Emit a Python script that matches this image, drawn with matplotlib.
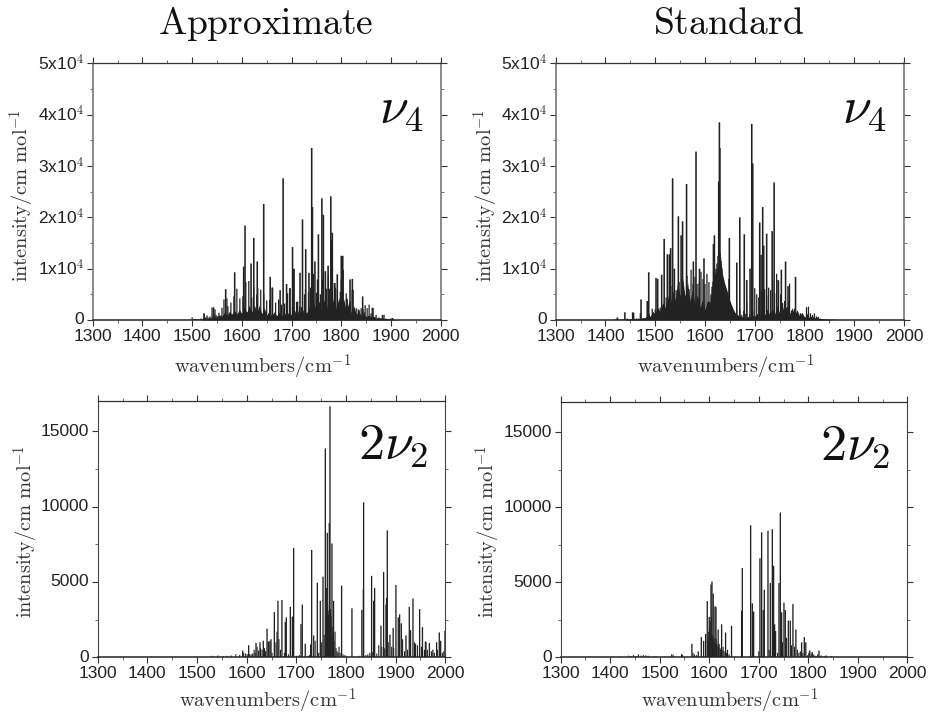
import matplotlib
matplotlib.use("Agg")
import matplotlib.pyplot as plt
from matplotlib.ticker import MultipleLocator

plt.rcParams['font.family'] = ['Liberation Sans', 'DejaVu Sans']
plt.rcParams['mathtext.fontset'] = 'cm'

W, H = 929, 716

# ---- Approximate, nu4: strong lines (wavenumber, intensity)
a4_x = [1606.4,1624,1644,1683,1702,1722,1728.5,1740.5,1742,1754,1761,1764,1779,1782,1800,1803,1773.5,1747,1735,1631,1618.5,1603.7,1585.6,1567.5,1657,1661,1677,1690,1697,1705,1712,1817.6,1822.3,1792,1787,1811,1843,1862.5,1883,1543,1524,1903,1717,1768]
a4_y = [18400,16000,22600,27600,14200,19600,13800,33500,22000,16700,23700,20500,24100,17000,12500,12500,10600,11400,9200,11400,11000,10400,9300,6000,8400,6300,5800,7000,6200,10000,3600,7900,8000,8900,7200,4200,4600,2400,1000,2500,1300,400,9200,9500]
# weaker lines: one height per 2 cm-1, rows of 12 cm-1 starting at 1500
a4_gx = list(range(1500, 1908, 2))
a4_g = [500,100,100,200,100,100,
        200,100,100,300,200,200,
        1200,500,500,900,500,400,
        700,400,2400,700,1300,2100,
        1000,700,800,1400,800,900,
        2400,800,4000,900,1100,4200,
        2700,900,1000,3400,1000,1200,
        4600,1100,1200,6100,1100,1300,
        4200,1200,1100,4600,1200,1400,
        7400,1500,1500,7600,1500,1400,
        4400,1400,6300,1500,1400,5000,
        6200,1300,1300,5900,1200,1100,
        5000,1000,900,3800,800,900,
        3900,800,700,6300,800,700,
        3400,800,800,4000,700,700,
        3000,800,800,3200,800,800,
        5200,1000,6200,900,900,2500,
        9900,1000,1000,3500,1000,1000,
        2600,1100,2500,1200,1200,5000,
        6000,1300,1300,5400,1400,6300,
        3300,1500,9000,1600,1600,5300,
        7900,1700,1700,5000,1700,7800,
        9700,1800,1800,6100,1800,8800,
        6100,1900,15500,2000,2000,7200,
        6300,2000,6000,2000,2000,5500,
        7800,2000,9800,2000,2000,5200,
        4000,1600,1500,3700,1400,5800,
        5900,1200,1100,2300,1000,2100,
        1900,900,2300,900,2100,1500,
        2900,700,2300,800,3000,700,
        1300,600,2300,500,500,1000,
        400,300,500,300,300,400,
        300,1000,200,300,200,200,
        200,200,300,150,100,100]
# unresolved forest of lines under the spectrum: jagged dark base, one height per 5 cm-1 from 1520
a4_fx = list(range(1520, 1920, 5))
a4_fy = [200,500,200,400,300,700,400,800,
         700,1500,900,1700,1000,1900,1100,2100,
         1200,2600,1400,2900,1500,3000,1400,2900,
         1200,2400,900,1900,800,1600,800,1500,
         700,1500,800,1700,900,2100,1000,2100,
         1100,2400,1200,2700,1500,3200,1700,3700,
         1900,4000,2100,4400,2300,4600,2200,4400,
         2000,4100,1700,3500,1400,2800,1000,2000,
         600,1400,400,1000,400,800,200,500,
         150,300,100,200,50,100,50,50]

# ---- Standard, nu4
s4_x = [1629,1630,1627.6,1694,1696,1582,1535,1563,1739,1716,1718,1670,1546.5,1555,1710,1724,1735,1679,1518,1552,1649,1619,1617,1528.4,1524.4,1531,1598,1538.5,1487,1501.6,1505,1513,1589,1576.7,1762,1664,1782,1753.5,1747,1767,1684,1690.6,1712.7,1471.5,1439,1454.7,1424,1456.5,1484]
s4_y = [38500,33500,27000,38200,30500,32800,27600,26500,26800,22000,14500,20000,20200,19200,19000,16800,17300,16700,15800,16500,16000,16500,14800,12800,12800,14000,12000,10000,9300,8200,8000,8800,10000,11400,11400,11200,8400,9800,7800,6600,7800,10000,12700,4000,1500,1500,500,1400,3700]
# weaker lines: one height per 2 cm-1, rows of 12 cm-1 starting at 1420
s4_gx = list(range(1420, 1864, 2))
s4_g = [100,50,400,100,50,50,
        100,50,100,200,50,100,
        300,100,100,100,200,100,
        100,200,100,300,100,100,
        200,1300,200,200,200,150,
        200,500,300,200,1100,300,
        300,2200,400,500,2100,500,
        1700,600,1500,2400,900,1800,
        3000,1000,2300,4400,1500,4000,
        4600,1800,3000,6600,2200,3800,
        4000,5800,2500,4000,7400,2500,
        4800,7800,2800,5500,3000,4600,
        8600,3000,6000,3000,9800,3000,
        7000,2800,8400,2800,7000,2600,
        7200,2500,9400,2200,8000,2000,
        7000,2000,9000,2000,7400,2400,
        5000,6500,7500,8000,9000,10000,
        11000,12500,13500,13000,11500,10000,
        8000,6600,5800,4800,3600,4000,
        8000,2500,2000,1500,1200,900,
        700,600,500,1000,600,2000,
        600,1000,500,1800,500,1200,
        3500,600,500,1000,500,3500,
        1700,700,6200,800,5000,900,
        4400,6000,1000,5800,1000,4000,
        6000,1000,4700,1200,6300,1100,
        5800,1000,7800,1000,5200,1000,
        9000,1100,7600,1200,5000,1000,
        3300,1000,3700,1000,2400,900,
        3700,7100,900,1800,800,1500,
        2200,700,1300,700,800,600,
        1300,500,700,400,600,300,
        2500,500,2600,400,1300,400,
        1000,300,1300,300,700,200,
        600,200,300,100,100,100,
        100,100,100,50,50,50,
        50,50,50,50,50,50]
s4_fx = list(range(1440, 1860, 5))
s4_fy = [50,150,100,200,150,400,200,500,
         400,1100,700,1700,1100,2400,1600,3400,
         2400,4400,3000,5800,3800,7400,4600,8200,
         4600,7400,3600,6000,3000,5000,2400,4000,
         2000,3800,3500,7000,9000,10500,13500,9000,
         7000,5500,3800,2500,1500,900,800,600,
         300,700,400,1000,500,1300,700,2000,
         900,2200,1000,2400,1100,2800,1300,3000,
         1200,2800,1200,2400,1000,2000,800,1500,
         500,1300,400,900,300,600,200,300,
         100,150,50,50]

# ---- Approximate, 2nu2
a2_x = [1767.8,1758.4,1835.5,1883.2,1766.4,1762.4,1694.6,1730.9,1771.8,1875.8,1851.6,1857.7,1900.6,1791.2,1742.3,1753.7,1748.3,1934.9,1927.5,1948.3,1775,1812,1663,1671,1655.7,1687.9,1712,1709.4,1677.8,1679.8,1835,1832,1855.7,1880.6,1881.8,1908,1905.3,1911.4,1870.4,1895,1954,1920.8,1888.5,1999.3,1987.9,1990.6,1982.5,1641,1718,1735,1728.8,1592,1604,1618.8,1626.8,1633.5,1649,1643.6,1692,1961,1968,1975,1940,1930,1960]
a2_y = [16650,13850,10280,8420,8900,8250,7250,7120,7550,5650,5400,4600,4800,4750,4950,5350,3750,3900,3350,3200,3750,3250,3750,3800,3000,3350,3500,2200,2350,2650,4500,3150,3750,3500,3950,2850,2650,2250,2100,1950,2000,1450,1500,1750,1650,1100,1000,1900,900,1450,850,450,800,950,1000,1100,1200,1050,2700,1000,950,500,900,1800,1050]
a2_gx = [1530,1542,1553,1560,1569,1578,1586,1594,1598,1601,1606,1609,1612,1615,1617,1621,1624,1628,1631,1636,1638,1645,1647,1651,1659,1661,1665,1668,1676,1684,1700,1706,1724,1727,1738,1745,1751,1756,1760,1761,1763,1764,1765,1769,1770,1772,1773,1774,1776,1778,1780,1782,1784,1786,1788,1794,1798,1826,1840,1844,1848,1854,1862,1866,1872,1878,1885,1892,1896,1914,1918,1924,1938,1944,1952,1958,1964,1972,1978,1984,1994,1997]
a2_g = [100,120,80,100,120,200,150,300,250,200,200,200,250,500,300,700,450,600,500,600,400,1000,1100,300,1000,1700,1200,500,300,200,100,150,100,150,1100,300,1000,1500,3000,4600,3500,3100,2800,3200,2700,2000,1600,1400,1100,1700,600,400,300,700,300,200,150,100,150,200,300,350,250,800,700,600,1000,700,600,1200,400,500,1000,800,700,500,500,400,300,500,300,400]

# ---- Standard, 2nu2
s2_x = [1743.5,1683.6,1705.8,1718.6,1727.4,1666.8,1665.4,1702.4,1730,1740.8,1723.3,1711.2,1687,1689.7,1709,1746.2,1750.9,1753.6,1769,1759.7,1763.7,1775,1732,1734,1792,1786.6,1795,1605.5,1603.5,1608,1596,1600,1611.6,1613.6,1618,1625,1633,1645,1584,1565,1588.7,1592.8,1578,1821.6,1803,1808]
s2_y = [9650,8800,8330,8430,8540,5950,3100,6600,6100,4950,4950,4500,3600,3050,3150,3000,3650,3150,3550,2450,2450,1850,2200,1750,1350,1000,1000,5050,4850,4250,3750,2700,3400,3350,1850,2200,1650,2100,1350,900,1100,1550,400,450,450,350]
s2_gx = [1300,1330,1360,1390,1420,1437,1442,1447,1452,1457,1462,1467,1472,1477,1490,1510,1524,1527,1544,1546,1567,1570,1574,1598,1599,1601,1602,1604,1606,1607,1609,1610,1612,1614,1615,1616,1619,1620,1622,1623,1626,1628,1630,1635,1637,1640,1700,1721,1738,1748,1756,1766,1772,1778,1781,1784,1789,1799,1801,1806,1811,1815,1819,1826,1832,1836,1847,1886]
s2_g = [40,40,40,40,50,110,80,150,90,200,110,150,130,100,60,50,200,180,220,160,300,200,150,1100,1700,2000,2400,2700,1500,1200,1000,1300,1000,1200,900,800,700,900,600,500,500,700,400,300,500,200,400,500,300,1000,1300,800,700,500,300,400,300,150,300,250,200,100,200,130,80,130,80,50]

panels = [
    (92.7, 440.7, 63.3, 320.0, 50000, a4_x, a4_y, a4_gx, a4_g, a4_fx, a4_fy),
    (555.7, 904.0, 63.3, 320.0, 50000, s4_x, s4_y, s4_gx, s4_g, s4_fx, s4_fy),
    (97.7, 445.3, 401.0, 657.3, 17000, a2_x, a2_y, a2_gx, a2_g, None, None),
    (560.7, 907.3, 402.3, 657.3, 17000, s2_x, s2_y, s2_gx, s2_g, None, None),
]
xticks = [1300, 1400, 1500, 1600, 1700, 1800, 1900, 2000]
y4_ticks = [0, 10000, 20000, 30000, 40000, 50000]
y4_labels = ['0', '1x10$^{\\mathsf{4}}$', '2x10$^{\\mathsf{4}}$', '3x10$^{\\mathsf{4}}$', '4x10$^{\\mathsf{4}}$', '5x10$^{\\mathsf{4}}$']
y2_ticks = [0, 5000, 10000, 15000]
y2_labels = ['0', '5000', '10000', '15000']
titles = ['Approximate', 'Standard']
bands = ['$\\nu_4$', '$\\nu_4$', '$2\\nu_2$', '$2\\nu_2$']

fig = plt.figure(figsize=(W / 100, H / 100), dpi=100, facecolor='white')
ink = '#222222'

for i, (l, r, t, b, ymax, px, py, gx, gy, fx, fy) in enumerate(panels):
    ax = fig.add_axes([l / W, 1 - b / H, (r - l) / W, (b - t) / H])
    ax.set_xlim(1300, 2000)
    ax.set_ylim(0, ymax)
    if fx is not None:
        ax.fill_between(fx, 0, fy, color=ink, lw=0)
    c1 = ax.vlines(gx, 0, gy, color=ink, lw=0.9 if i < 2 else 0.8)
    c2 = ax.vlines(px, 0, py, color=ink, lw=1.15 if i < 2 else 0.95)
    c1.set_snap(False); c2.set_snap(False)
    ax.set_xticks(xticks)
    ax.xaxis.set_minor_locator(MultipleLocator(50))
    if i < 2:
        ax.set_yticks(y4_ticks, y4_labels)
        ax.yaxis.set_minor_locator(MultipleLocator(5000))
    else:
        ax.set_yticks(y2_ticks, y2_labels)
        ax.yaxis.set_minor_locator(MultipleLocator(2500))
    ax.tick_params(which='major', direction='out', length=4.5, width=0.8, color='#333333',
                   labelsize=12.5, labelcolor=ink, top=True, right=True, pad=2)
    ax.tick_params(which='minor', direction='out', length=2.5, width=0.6, color='#555555', top=True, right=True)
    for lab in ax.get_yticklabels():
        lab.set_va('center')
    for side in ('left', 'right'):
        ax.spines[side].set_color('#777777' if i < 2 else '#444444')
        ax.spines[side].set_linewidth(1.2 if i < 2 else 0.8)
    ax.spines['top'].set_color('#333333'); ax.spines['top'].set_linewidth(0.9)
    ax.spines['bottom'].set_color('#222222'); ax.spines['bottom'].set_linewidth(1.1)
    cx = (l + r) / 2
    fig.text((cx - 4) / W, 1 - (b + (47 if i < 2 else 44)) / H, '$\\mathrm{wavenumbers/cm}^{-1}$', ha='center', va='center',
             fontsize=14.7, color='#333333')
    lx = {0: 22, 1: 486, 2: 26, 3: 488}[i]
    ly = {0: 196, 1: 196, 2: 532, 3: 532}[i]
    fig.text(lx / W, 1 - ly / H, '$\\mathrm{intensity/cm\\ mol}^{-1}$', rotation=90, ha='center', va='center',
             fontsize=14.7, color='#333333')
    bx = {0: 424, 1: 887, 2: 428, 3: 890}[i]
    by = {0: 123, 1: 123, 2: 459, 3: 460}[i]
    fig.text(bx / W, 1 - by / H, bands[i], ha='right', va='baseline', fontsize=37.5, color='#111111')

fig.text(266 / W, 1 - 34 / H, '$\\mathrm{' + titles[0] + '}$', ha='center', va='baseline', fontsize=27, color='#111111')
fig.text(729 / W, 1 - 34 / H, '$\\mathrm{' + titles[1] + '}$', ha='center', va='baseline', fontsize=27, color='#111111')

fig.savefig('out.png', dpi=100)
